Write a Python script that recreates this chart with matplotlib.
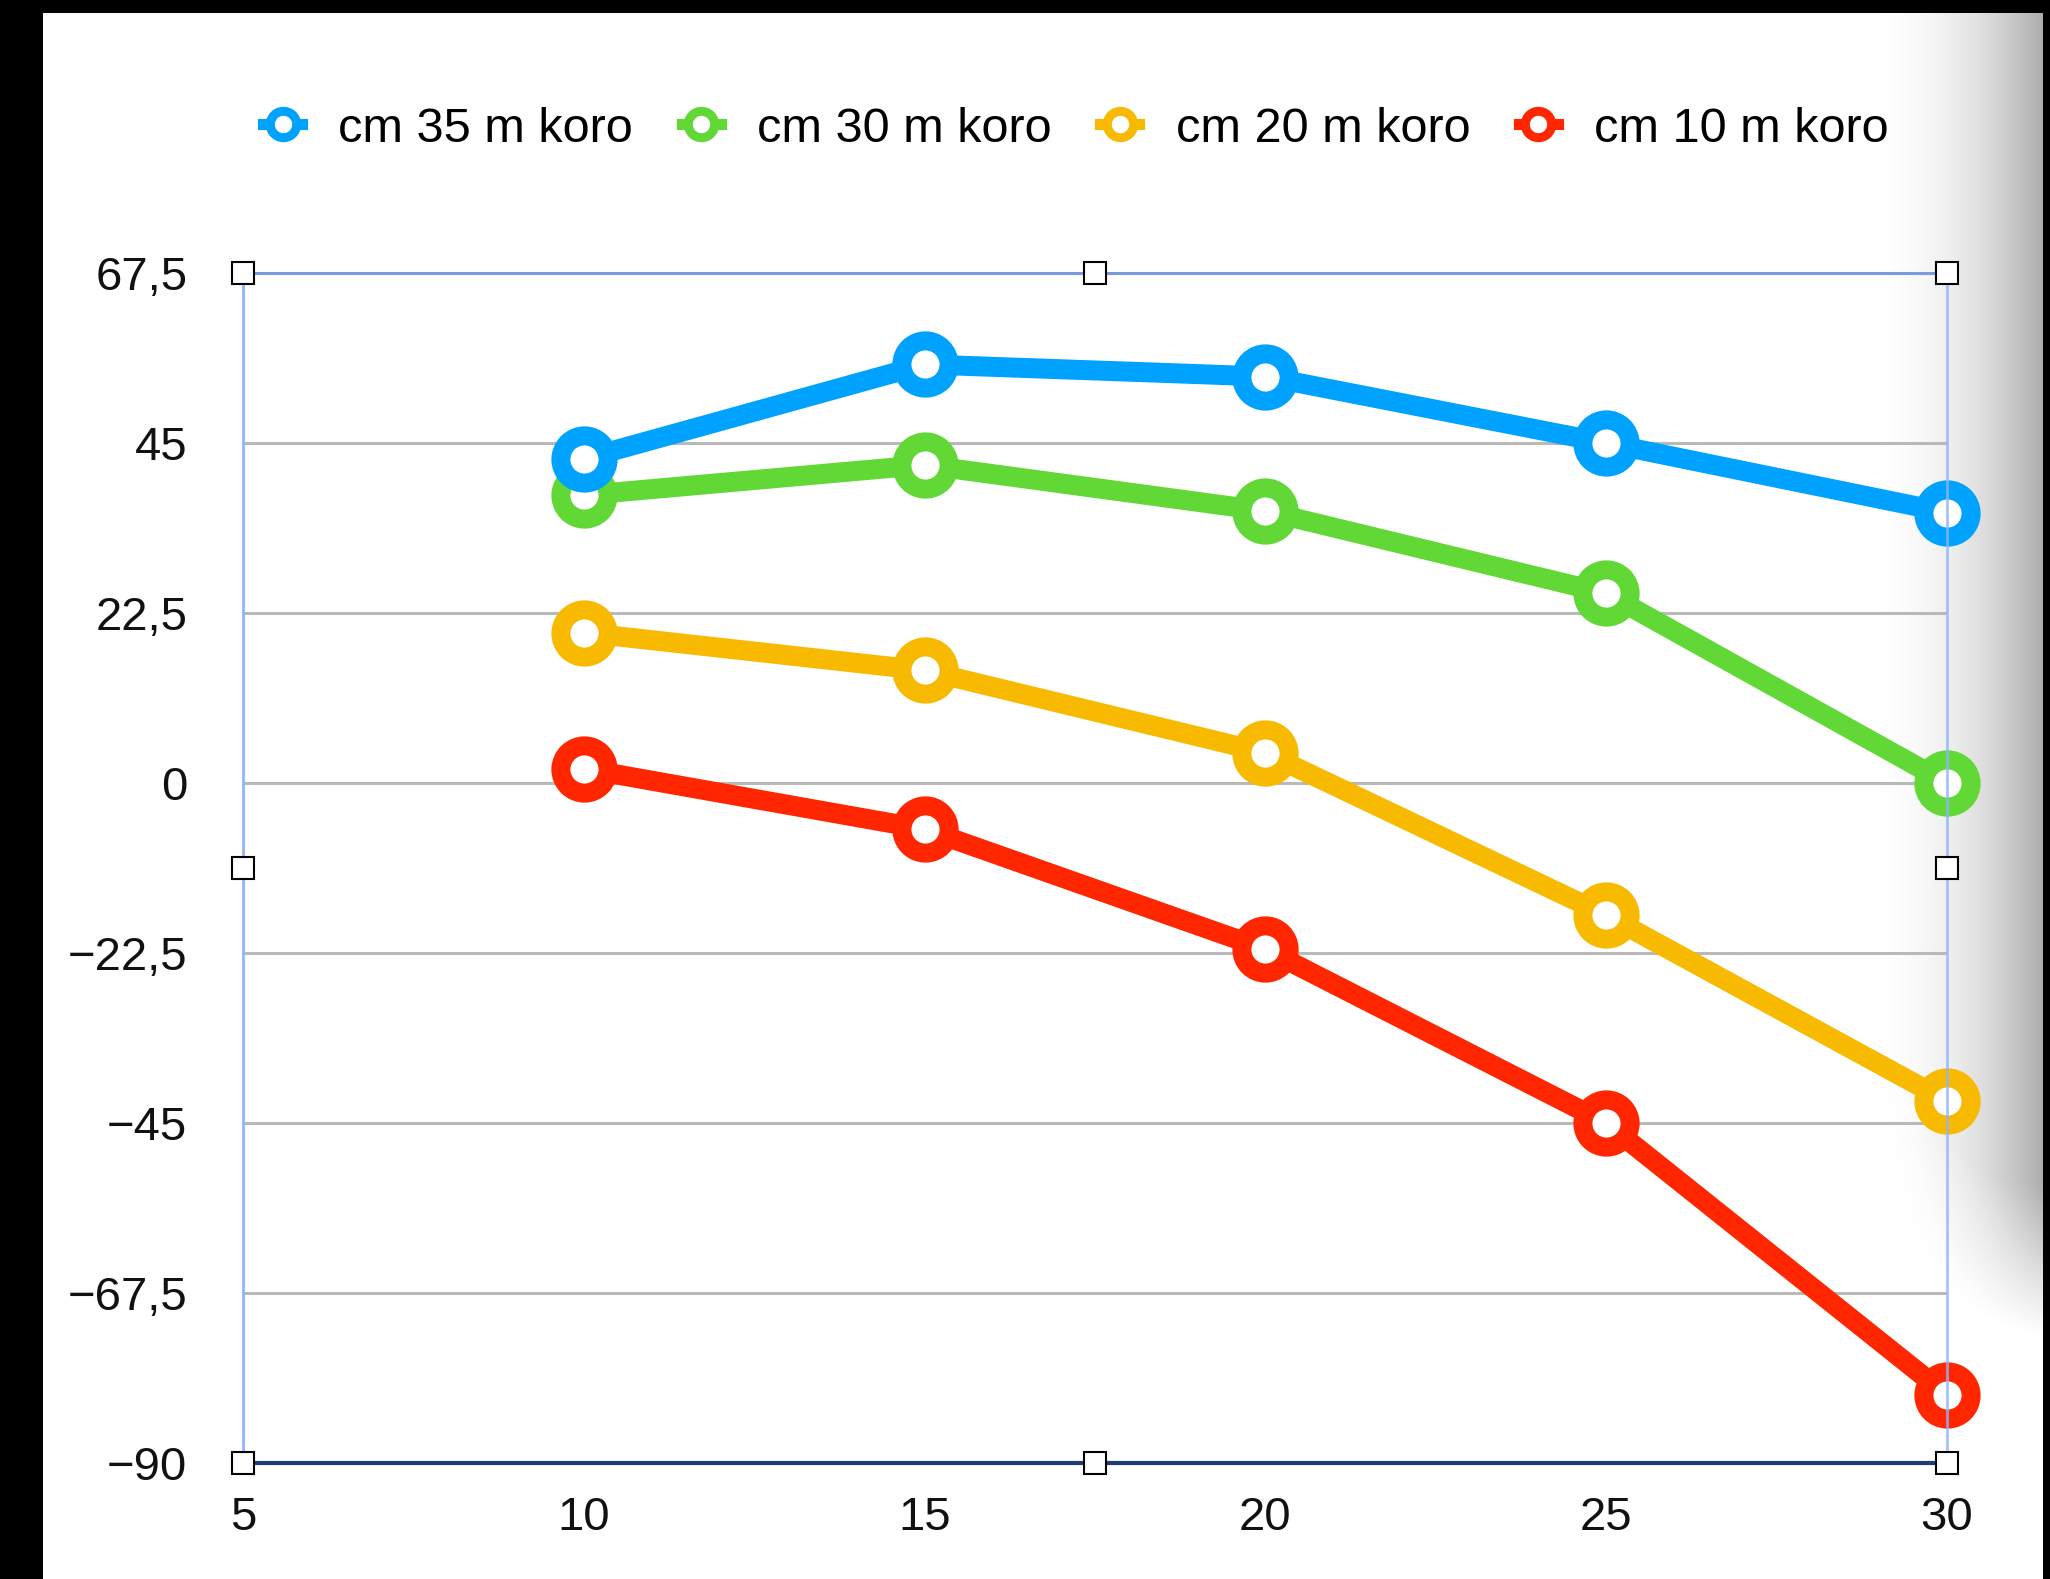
import numpy as np
import matplotlib
matplotlib.use('Agg')
import matplotlib.pyplot as plt
from matplotlib.lines import Line2D

# data
x = [10, 15, 20, 25, 30]
cm35 = [42.9, 55.4, 53.8, 45.0, 35.8]
cm30 = [38.1, 42.1, 36.0, 25.1, 0.0]
cm20 = [19.9, 14.9, 4.0, -17.5, -42.1]
cm10 = [1.9, -6.1, -22.0, -45.0, -81.0]
series = [cm35, cm30, cm20, cm10]
labels = ['cm 35 m koro', 'cm 30 m koro', 'cm 20 m koro', 'cm 10 m koro']
colors = ['#00a2ff', '#61d836', '#f8ba00', '#ff2600']

xticks = [5, 10, 15, 20, 25, 30]
yticks = [-90, -67.5, -45, -22.5, 0, 22.5, 45, 67.5]
ytick_labels = ['\u221290', '\u221267,5', '\u221245', '\u221222,5', '0', '22,5', '45', '67,5']

plt.rcParams['font.family'] = ['Liberation Sans', 'DejaVu Sans']

W, H = 2050, 1579
fig = plt.figure(figsize=(W / 100, H / 100), dpi=100)

# screenshot background: black frame, white page, grey shadow on the right
yy, xx = np.mgrid[0:H, 0:W].astype(np.float32)
t = np.clip((xx - 1855) / (2043 - 1855), 0, 1)
dark = 0.33 * t ** 2.3
bottom = 1335 - 170 * ((2043 - xx) / 190) ** 2
fade = np.clip((bottom - yy) / 150, 0, 1)
shade = 1 - dark * fade
shade[:13, :] = 0
shade[:, :43] = 0
shade[:, 2043:] = 0
bg = fig.add_axes([0, 0, 1, 1], zorder=-1)
bg.imshow(shade, cmap='gray', vmin=0, vmax=1, aspect='auto', interpolation='bilinear')
bg.axis('off')

ax = fig.add_axes([243 / W, 1 - 1463 / H, (1947 - 243) / W, (1463 - 273) / H])
ax.set_facecolor('none')

# draw red first so blue ends up on top
for vals, c in reversed(list(zip(series, colors))):
    ax.plot(x, vals, color=c, lw=14.4, marker='o', ms=34, mew=13.7,
            mfc='white', mec=c, clip_on=False, zorder=3)

ax.set_xlim(5, 30)
ax.set_ylim(-90, 67.5)
ax.set_xticks(xticks)
ax.set_xticklabels([str(v) for v in xticks])
ax.set_yticks(yticks)
ax.set_yticklabels(ytick_labels)
ax.tick_params(axis='both', length=0, labelsize=34, colors='#111111')
ax.tick_params(axis='y', pad=40)
ax.tick_params(axis='x', pad=24)
ax.set_axisbelow(True)
ax.yaxis.grid(True, color='#b9b9b9', lw=2.2)

for side in ['left', 'right']:
    ax.spines[side].set_color('#8fb4ff')
    ax.spines[side].set_linewidth(2)
    ax.spines[side].set_zorder(4)
ax.spines['right'].set_alpha(0.8)
ax.spines['top'].set_color('#7b9be0')
ax.spines['top'].set_linewidth(2.2)
ax.spines['bottom'].set_color('#1f3c78')
ax.spines['bottom'].set_linewidth(3)

# selection handles around the chart frame
for fx, fy in [(0, 0), (0.5, 0), (1, 0), (0, 0.5), (1, 0.5), (0, 1), (0.5, 1), (1, 1)]:
    ax.plot(fx, fy, 's', transform=ax.transAxes, ms=16.5, mfc='white', mec='black',
            mew=1.5, clip_on=False, zorder=6)

handles = [Line2D([], [], color=c, lw=8, marker='o', ms=19, mew=6.5, mfc='white', mec=c)
           for c in colors]
fig.legend(handles, labels, loc='center', bbox_to_anchor=(1076 / W, 1 - 129 / H),
           ncol=4, frameon=False, handlelength=0.8, handletextpad=0.75,
           columnspacing=1.0, fontsize=35)

fig.savefig('out.png', dpi=100)
